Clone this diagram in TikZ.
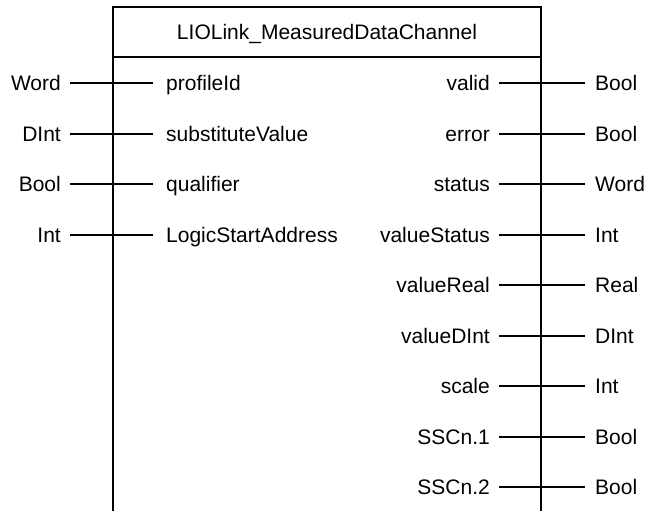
\documentclass[tikz,border=0pt]{standalone}
\usepackage{fontspec}
\setmainfont{Liberation Sans}
\begin{document}
\begin{tikzpicture}[x=1pt,y=-1pt,
  font=\fontsize{21}{25}\selectfont,
  boxline/.style={line width=2pt},
  pin/.style={line width=2pt},
  lbl/.style={inner ysep=0pt,text height=15pt,text depth=0pt},
  intype/.style={lbl,anchor=east,inner xsep=9pt},
  inpin/.style={lbl,anchor=west,inner xsep=13pt},
  outpin/.style={lbl,anchor=east,inner xsep=9pt},
  outtype/.style={lbl,anchor=west,inner xsep=10pt}]
\useasboundingbox (0,0) rectangle (645,511);

% function block outline (open at the bottom) and title bar
\coordinate (blTL) at (113,7);
\coordinate (blTR) at (541,7);
\coordinate (blBL) at (113,511);
\coordinate (blBR) at (541,511);
\draw[boxline] (blBL) -- (blTL) -- (blTR) -- (blBR);
\draw[boxline] (113,57) -- (541,57);
\node[lbl,anchor=center] (title) at (327,32) {LIOLink\_MeasuredDataChannel};

% inputs
\foreach \i/\y/\typ/\nm in {0/83/Word/profileId, 1/134/DInt/substituteValue, 2/184/Bool/qualifier, 3/235/Int/LogicStartAddress}{
  \node[intype] (it\i) at (70,\y) {\typ};
  \node[inpin]  (ip\i) at (153,\y) {\nm};
  \draw[pin] (it\i.east) -- (ip\i.west);
}

% outputs
\foreach \i/\y/\nm/\typ in {0/83/valid/Bool, 1/134/error/Bool, 2/184/status/Word, 3/235/valueStatus/Int, 4/285/valueReal/Real, 5/336/valueDInt/DInt, 6/386/scale/Int, 7/437/SSCn.1/Bool, 8/487/SSCn.2/Bool}{
  \node[outpin]  (op\i) at (499,\y) {\nm};
  \node[outtype] (ot\i) at (585,\y) {\typ};
  \draw[pin] (op\i.east) -- (ot\i.west);
}
\end{tikzpicture}
\end{document}
